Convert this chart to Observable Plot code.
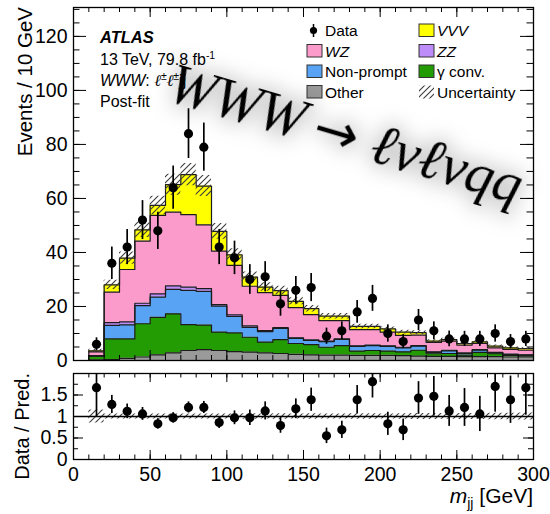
<!DOCTYPE html>
<html>
<head>
<meta charset="utf-8">
<script src="https://cdn.jsdelivr.net/npm/d3@7"></script>
<script src="https://cdn.jsdelivr.net/npm/@observablehq/plot@0.6"></script>
<style>
  body { margin: 0; background: #fff; }
  #chart { position: relative; width: 550px; height: 514px; overflow: hidden; }
  #chart svg { position: absolute; left: 0; }
</style>
</head>
<body>
<div id="chart"></div>
<script>
// m_jj distribution, 10 GeV bins starting at 10 GeV
const binLow = [10, 20, 30, 40, 50, 60, 70, 80, 90, 100, 110, 120, 130, 140, 150,
                160, 170, 180, 190, 200, 210, 220, 230, 240, 250, 260, 270, 280, 290];
const binWidth = 10;

// Post-fit background and signal yields per bin (stacked bottom to top)
const other     = [0.2, 0.3, 0.8, 1.3, 2.1, 2.8, 3.7, 4.0, 3.7, 3.3, 3.1, 2.8, 2.6, 2.3, 2.1,
                   2.0, 2.0, 1.9, 1.9, 1.9, 1.8, 1.6, 1.5, 1.5, 1.4, 1.4, 1.4, 1.3, 1.3];
const gammaConv = [1.4, 7.7, 7.2, 12.3, 13.9, 14.5, 9.6, 9.1, 6.8, 6.9, 5.5, 4.0, 5.1, 4.0, 3.8,
                   2.9, 3.5, 1.6, 1.8, 1.6, 1.4, 2.2, 1.0, 1.1, 0.6, 1.6, 1.1, 0.6, 0.4];
const nonPrompt = [0.1, 5.0, 5.2, 6.7, 7.5, 9.0, 12.7, 12.5, 9.6, 6.1, 3.7, 3.9, 4.2, 1.9, 1.5,
                   2.1, 2.3, 1.7, 1.8, 1.7, 1.5, 1.5, 0.5, 1.0, 0.6, 0.8, 0.3, 0.3, 0.3];
const zz        = [0.1, 1.0, 1.1, 0.9, 1.2, 1.3, 1.2, 1.0, 0.6, 0.6, 0.5, 0.4, 0.3, 0.2, 0.2,
                   0.2, 0.2, 0.2, 0.2, 0.2, 0.2, 0.2, 0.2, 0.2, 0.2, 0.2, 0.2, 0.2, 0.1];
const wz        = [1.4, 11.3, 19.4, 23.0, 29.0, 27.3, 26.8, 23.6, 19.8, 18.3, 14.7, 14.0, 11.9, 11.2, 9.4,
                   7.6, 6.8, 6.0, 5.7, 5.1, 4.4, 3.9, 3.5, 3.4, 2.9, 2.3, 1.7, 1.7, 1.7];
const vvv       = [0.4, 2.7, 4.2, 4.2, 3.7, 10.2, 14.8, 14.4, 7.3, 3.9, 3.4, 2.1, 1.8, 2.3, 2.2,
                   1.6, 1.6, 1.2, 1.2, 1.2, 1.2, 0.9, 0.5, 0.5, 0.6, 0.6, 0.6, 0.6, 0.6];

// Total prediction uncertainty (absolute, events)
const uncertainty = [0.55, 1.7, 2.3, 2.9, 3.4, 3.9, 4.1, 3.9, 2.9, 2.3, 1.9, 1.6, 1.6, 1.3, 1.2,
                     1.0, 1.0, 0.8, 0.8, 0.7, 0.7, 0.7, 0.5, 0.5, 0.45, 0.5, 0.4, 0.35, 0.35];

// Observed data and its statistical error
const dataCounts = [6, 36, 42, 52, 48, 64, 84, 79, 42, 38, 30, 31, 21, 26, 27,
                    9, 11, 18, 23, 10, 7, 15, 11, 8, 8, 8, 10, 7, 8];
const dataErr    = [2.4, 6.0, 6.5, 7.2, 6.9, 8.0, 9.2, 8.9, 6.5, 6.2, 5.5, 5.6, 4.6, 5.1, 5.2,
                    3.0, 3.3, 4.2, 4.8, 3.2, 2.6, 3.9, 3.3, 2.9, 2.8, 2.8, 3.2, 2.6, 2.8];

// Data / prediction ratio and its error
const ratio    = [1.67, 1.28, 1.12, 1.06, 0.83, 0.97, 1.21, 1.21, 0.86, 0.97, 0.97, 1.13, 0.79, 1.18, 1.39,
                  0.55, 0.69, 1.39, 1.81, 0.83, 0.69, 1.43, 1.47, 1.13, 1.21, 1.06, 1.70, 1.39, 1.67];
const ratioErr = [0.67, 0.21, 0.17, 0.15, 0.12, 0.12, 0.13, 0.14, 0.14, 0.16, 0.18, 0.21, 0.18, 0.23, 0.27,
                  0.18, 0.20, 0.33, 0.38, 0.27, 0.25, 0.38, 0.46, 0.36, 0.44, 0.41, 0.60, 0.55, 0.64];

const seriesNames  = ["Other", "γ conv.", "Non-prompt", "ZZ", "WZ", "VVV"];
const seriesColors = ["#9a9a9a", "#239b02", "#58a3f3", "#bd8cf8", "#fb9bcb", "#ffff00"];
const seriesValues = [other, gammaConv, nonPrompt, zz, wz, vvv];

// Axis ticks
const xMajor = [0, 50, 100, 150, 200, 250, 300];
const xMinor = d3.range(0, 301, 10);
const yMajorMain = [0, 20, 40, 60, 80, 100, 120];
const yMinorMain = d3.range(0, 131, 5);
const yMajorRatio = [0, 0.5, 1, 1.5];
const yMinorRatio = [0, 0.25, 0.5, 0.75, 1, 1.25, 1.5, 1.75, 2];

const FONT = "'Liberation Sans', Arial, Helvetica, sans-serif";
const xEnd = binLow[binLow.length - 1] + binWidth;

// Step-histogram rows: one point per bin edge, last bin repeated at the upper edge
const stackRows = [];
seriesNames.forEach((name, s) => {
  const vals = seriesValues[s];
  binLow.forEach((x, i) => stackRows.push({series: name, x, y: vals[i]}));
  stackRows.push({series: name, x: xEnd, y: vals[vals.length - 1]});
});
const totals = binLow.map((_, i) => d3.sum(seriesValues, v => v[i]));
const bandRows = binLow.map((x, i) => ({x, lo: totals[i] - uncertainty[i], hi: totals[i] + uncertainty[i],
  rlo: 1 - uncertainty[i] / totals[i], rhi: 1 + uncertainty[i] / totals[i]}));
bandRows.push({...bandRows[bandRows.length - 1], x: xEnd});
const points = binLow.map((x, i) => ({center: x + binWidth / 2, value: dataCounts[i], err: dataErr[i],
  r: ratio[i], rErr: ratioErr[i]}));

// Inward-pointing tick marks on all four sides of a frame
function frameTicks(frameW, frameH, xMin, xMaj, yMin, yMaj, lx) {
  const [xs, xl, ys, yl] = lx;
  return [
    Plot.ruleX(xMin, {x: d => d, insetTop: frameH - xs, stroke: "black"}),
    Plot.ruleX(xMaj, {x: d => d, insetTop: frameH - xl, stroke: "black"}),
    Plot.ruleX(xMin, {x: d => d, insetBottom: frameH - xs, stroke: "black"}),
    Plot.ruleX(xMaj, {x: d => d, insetBottom: frameH - xl, stroke: "black"}),
    Plot.ruleY(yMin, {y: d => d, insetRight: frameW - ys, stroke: "black"}),
    Plot.ruleY(yMaj, {y: d => d, insetRight: frameW - yl, stroke: "black"}),
    Plot.ruleY(yMin, {y: d => d, insetLeft: frameW - ys, stroke: "black"}),
    Plot.ruleY(yMaj, {y: d => d, insetLeft: frameW - yl, stroke: "black"})
  ];
}

const mainPlot = Plot.plot({
  width: 550, height: 372,
  marginTop: 7, marginBottom: 12, marginLeft: 73, marginRight: 17,
  style: {background: "none", fontFamily: FONT, fontSize: "19.5px", color: "black", overflow: "visible"},
  x: {domain: [0, 300], axis: null},
  y: {domain: [0, 130.7], ticks: yMajorMain, tickSize: 0, tickPadding: 6, label: null, tickFormat: d => String(d)},
  color: {domain: seriesNames, range: seriesColors},
  marks: [
    Plot.areaY(stackRows, {x: "x", y: "y", z: "series", fill: "series", order: seriesNames, curve: "step-after"}),
    Plot.lineY(stackRows, Plot.stackY2({x: "x", y: "y", z: "series", order: seriesNames, curve: "step-after",
      stroke: "#1c1c1c", strokeWidth: 1.2})),
    Plot.ruleX([binLow[0]], {y1: 0, y2: totals[0], stroke: "#1c1c1c", strokeWidth: 1.2}),
    Plot.areaY(bandRows, {x: "x", y1: "lo", y2: "hi", curve: "step-after", fill: "url(#hatch)"}),
    ...frameTicks(460, 353, xMinor, xMajor, yMinorMain, yMajorMain, [5, 10, 6.5, 13]),
    Plot.frame({stroke: "black", strokeWidth: 1.3}),
    Plot.ruleX(points, {x: "center", y1: d => d.value - d.err, y2: d => d.value + d.err, stroke: "black", strokeWidth: 1.7}),
    Plot.dot(points, {x: "center", y: "value", r: 4.6, fill: "black", stroke: null})
  ]
});

const ratioPlot = Plot.plot({
  width: 550, height: 152,
  marginTop: 11, marginBottom: 55, marginLeft: 73, marginRight: 17,
  style: {background: "none", fontFamily: FONT, fontSize: "19.5px", color: "black", overflow: "visible"},
  x: {domain: [0, 300], ticks: xMajor, tickSize: 0, tickPadding: 8, label: null},
  y: {domain: [0, 2], ticks: yMajorRatio, tickSize: 0, tickPadding: 6, label: null, clamp: true, tickFormat: d => String(d)},
  marks: [
    Plot.areaY(bandRows, {x: "x", y1: "rlo", y2: "rhi", curve: "step-after", fill: "url(#hatch)"}),
    Plot.ruleY([1], {stroke: "black", strokeWidth: 1.3}),
    ...frameTicks(460, 86, xMinor, xMajor, yMinorRatio, yMajorRatio, [4.5, 9, 5, 10]),
    Plot.frame({stroke: "black", strokeWidth: 1.3}),
    Plot.ruleX(points, {x: "center", y1: d => d.r - d.rErr, y2: d => d.r + d.rErr, stroke: "black", strokeWidth: 1.7}),
    Plot.dot(points, {x: "center", y: "r", r: 4.6, fill: "black", stroke: null})
  ]
});

const chart = document.getElementById("chart");
mainPlot.style.top = "0px";
ratioPlot.style.top = "362px";
chart.appendChild(mainPlot);
chart.appendChild(ratioPlot);

d3.select(mainPlot).insert("defs", ":first-child").html(`
  <pattern id="hatch" patternUnits="userSpaceOnUse" width="6" height="6">
    <path d="M0,6 L6,0 M-1.5,1.5 L1.5,-1.5 M4.5,7.5 L7.5,4.5" stroke="#3a3a3a" stroke-width="1.1"/>
  </pattern>`);

// Text layer: titles, labels, legend and the process banner
const overlay = d3.select(chart).append("svg")
  .attr("width", 550).attr("height", 514)
  .style("top", "0px").style("pointer-events", "none")
  .attr("font-family", FONT);

overlay.append("defs").html(`
  <filter id="haze" x="-30%" y="-80%" width="160%" height="260%">
    <feMorphology in="SourceAlpha" operator="dilate" radius="4" result="thick"/>
    <feGaussianBlur in="thick" stdDeviation="10" result="blur"/>
    <feFlood flood-color="#000" flood-opacity="0.18"/>
    <feComposite in2="blur" operator="in" result="shadow"/>
    <feMerge><feMergeNode in="shadow"/><feMergeNode in="SourceGraphic"/></feMerge>
  </filter>`);

// Axis titles
overlay.append("text").attr("transform", "translate(31.5,7) rotate(-90)")
  .attr("text-anchor", "end").attr("font-size", 20.5).text("Events / 10 GeV");
overlay.append("text").attr("transform", "translate(28.5,373) rotate(-90)")
  .attr("text-anchor", "end").attr("font-size", 20).text("Data / Pred.");
const xTitle = overlay.append("text").attr("x", 533).attr("y", 503)
  .attr("text-anchor", "end").attr("font-size", 21);
xTitle.append("tspan").attr("font-style", "italic").text("m");
xTitle.append("tspan").attr("font-size", 14).attr("dy", 5).text("jj");
xTitle.append("tspan").attr("dy", -5).text(" [GeV]");

// ATLAS label block
const info = overlay.append("g").attr("font-size", 16);
info.append("text").attr("x", 100).attr("y", 42.5).attr("font-size", 16.5)
  .attr("font-weight", "bold").attr("font-style", "italic").text("ATLAS");
const lumi = info.append("text").attr("x", 100).attr("y", 64.5);
lumi.append("tspan").text("13 TeV, 79.8 fb");
lumi.append("tspan").attr("font-size", 10.5).attr("dy", -6).text("-1");
const region = info.append("text").attr("x", 100).attr("y", 85.5);
region.append("tspan").attr("font-style", "italic").text("WWW");
region.append("tspan").text(": ");
region.append("tspan").attr("font-family", "'DejaVu Serif', serif").attr("font-style", "italic").text("ℓ");
region.append("tspan").attr("font-size", 10.5).attr("dy", -6).text("±");
region.append("tspan").attr("dy", 6).attr("font-family", "'DejaVu Serif', serif").attr("font-style", "italic").text("ℓ");
region.append("tspan").attr("font-size", 10.5).attr("dy", -6).text("±");
region.append("tspan").attr("dy", 6).text("jj");
info.append("text").attr("x", 100).attr("y", 107).text("Post-fit");

// Legend
const legendItems = [
  {label: "Data", kind: "data", col: 0, row: 0},
  {label: "WZ", italic: true, color: seriesColors[4], col: 0, row: 1},
  {label: "Non-prompt", color: seriesColors[2], col: 0, row: 2},
  {label: "Other", color: seriesColors[0], col: 0, row: 3},
  {label: "VVV", italic: true, color: seriesColors[5], col: 1, row: 0},
  {label: "ZZ", italic: true, color: seriesColors[3], col: 1, row: 1},
  {label: "γ conv.", color: seriesColors[1], col: 1, row: 2},
  {label: "Uncertainty", kind: "band", col: 1, row: 3}
];
const colX = [307, 419];
const rowY = [36, 56.5, 77, 97.5];
const legend = overlay.append("g").attr("font-size", 15.5);
legendItems.forEach(it => {
  const x = colX[it.col], y = rowY[it.row];
  if (it.kind === "data") {
    legend.append("line").attr("x1", x + 6.5).attr("x2", x + 6.5).attr("y1", y - 12).attr("y2", y + 1)
      .attr("stroke", "black").attr("stroke-width", 1.5);
    legend.append("circle").attr("cx", x + 6.5).attr("cy", y - 5.5).attr("r", 3.6).attr("fill", "black");
  } else if (it.kind === "band") {
    legend.append("rect").attr("x", x).attr("y", y - 12).attr("width", 15).attr("height", 13)
      .attr("fill", "url(#hatch)");
  } else {
    legend.append("rect").attr("x", x).attr("y", y - 12).attr("width", 15).attr("height", 12.5)
      .attr("fill", it.color).attr("stroke", "#333").attr("stroke-width", 1);
  }
  legend.append("text").attr("x", x + 18).attr("y", y)
    .attr("font-style", it.italic ? "italic" : null).text(it.label);
});

// Process banner
const banner = overlay.append("text")
  .attr("transform", "translate(165,100) rotate(16.5)")
  .attr("font-family", "'Liberation Serif', 'DejaVu Serif', serif")
  .attr("font-style", "italic").attr("font-size", 56)
  .attr("filter", "url(#haze)");
banner.append("tspan").text("WWW");
banner.append("tspan").attr("dx", 11).attr("font-family", "'DejaVu Sans', sans-serif").attr("font-style", "normal")
  .attr("font-size", 54).text("→");
banner.append("tspan").attr("dx", 15).attr("font-size", 57).text("ℓνℓνqq");
</script>
</body>
</html>
